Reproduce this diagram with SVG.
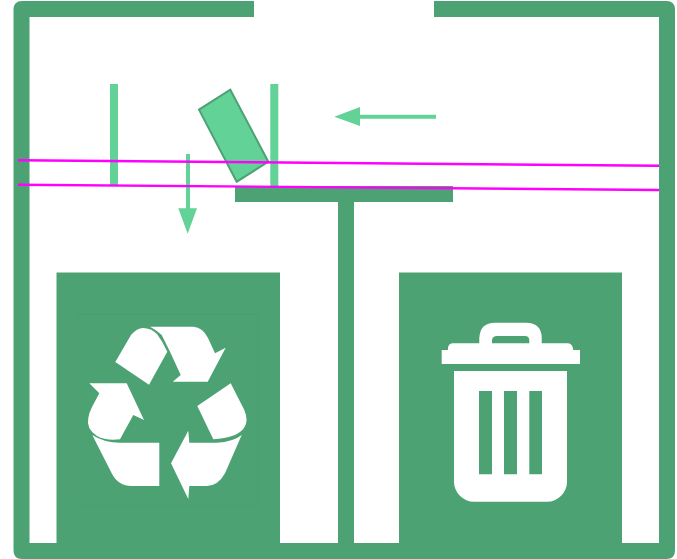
<svg xmlns="http://www.w3.org/2000/svg" width="677" height="559" viewBox="0 0 677 559">
<style>
.dark{fill:#4da274}
.light{fill:#63d297}
.icon{fill:#fff}
.beam{stroke:#f0f;stroke-width:2.400;fill:none}
</style>
<rect width="677" height="559" fill="#fff"/>
<g id="frame">
<path d="M254 1H22Q13.500 1 13.500 9.500V550.500Q13.500 559 22 559H666.500Q675 559 675 550.500V9.500Q675 1 666.500 1H434V17H659V543H29.500V17H254Z" class="dark"/>
</g>
<g id="shelf" class="dark">
<rect x="235" y="186" width="218" height="16"/>
<rect x="338" y="202" width="16" height="342"/>
</g>
<g id="guide-left"><rect x="110" y="84" width="8" height="102" class="light"/></g>
<g id="guide-right"><rect x="270.300" y="84" width="8" height="102" class="light"/></g>
<g id="flap"><polygon points="199,109.700 230.300,89.700 268.300,161.700 236.700,181.700" class="light" stroke="#4da274" stroke-width="2"/></g>
<g id="recycle-bin">
<rect x="56.500" y="272.500" width="223.500" height="271" class="dark"/>
<rect x="78.500" y="314" width="179.500" height="191" fill="none" stroke="#4a9c70" stroke-width="0.500"/>
<path class="icon" d="M115.300 362L131 335Q137 328 143 328Q151 328 157 334Q163 342 167.300 351.700L149 384.700Z"/>
<path class="icon" d="M150 326.700H193.300Q203 327.500 208 338L215 353.300L225.700 347.700L207.700 381.700H172.700L180.700 375L170 351.700L161.700 335Q155 329 150 326.700Z"/>
<path class="icon" d="M89.300 383.300H126.700L144 420L133.300 415L120 439.300Q106 441 97 436Q86 429 88.300 418Q89 413 92 407L99.300 393.300Z"/>
<path class="icon" d="M92.300 435Q104 442.700 120 442.700H159.300V486H131.700Q118 486 111.700 473.300Z"/>
<path class="icon" d="M241.700 435L225 473.300Q218 486 206.700 486H189.300L188.300 499L171 463.300L188.300 430.700L189.300 442.700H216.700Q233 442 241.700 435Z"/>
<path class="icon" d="M197.300 406L230.700 383.300L244.300 410Q249 421 244 428Q237 438 213.300 439.300Z"/>
</g>
<g id="trash-bin">
<rect x="399" y="272.500" width="223" height="271" class="dark"/>
<path class="icon" fill-rule="evenodd" d="M441.700 350H448V347.500Q449 343.300 453 343.300H479.300V338Q480 322.700 495 322.700H526Q541.700 323 541.700 338V343.300H568Q572.500 343.300 573.300 350H580V364H441.700ZM492 343.300H529.300V340Q529 336 525 336H497Q492.500 336 492 340Z"/>
<path class="icon" fill-rule="evenodd" d="M454 371H567V481.700A20 20 0 0 1 547 501.700H474A20 20 0 0 1 454 481.700ZM479 391V474.300H492V391ZM504 391V474.300H517V391ZM529.300 391V474.300H542V391Z"/>
</g>
<g id="connectors">
<path d="M186 154H190V208.300H197L187.700 233.700L178.300 208.300H186Z" class="light"/>
<path d="M436 114.700V118.700H360V126L334.300 116.700L360 107V114.700Z" class="light"/>
<line x1="18" y1="160.300" x2="659" y2="165.700" class="beam"/>
<line x1="18" y1="184.700" x2="659" y2="190" class="beam"/>
</g>
</svg>
